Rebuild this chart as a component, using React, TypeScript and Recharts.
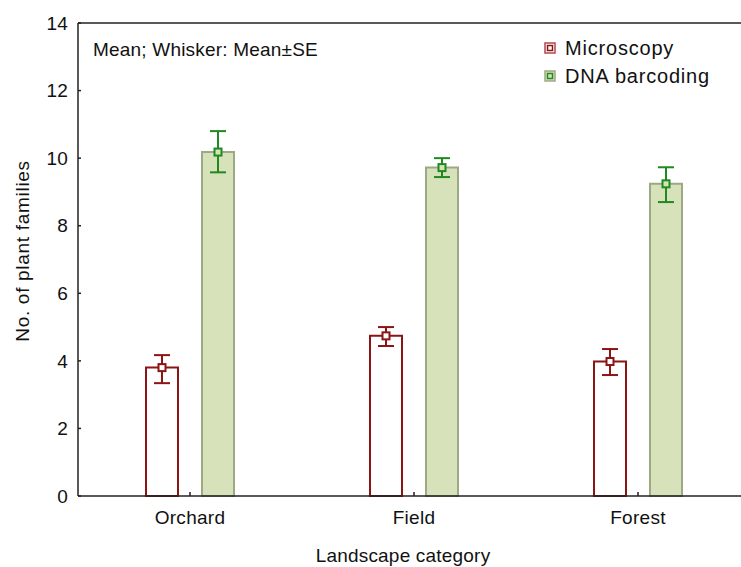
import React from 'react';
import {
  ComposedChart,
  Bar,
  ErrorBar,
  XAxis,
  YAxis,
  ReferenceLine,
  LabelList,
  Customized,
} from 'recharts';

// values
const categories = ['Orchard', 'Field', 'Forest'];
const microMean = [3.8, 4.74, 3.98];
const microLow = [3.34, 4.44, 3.58];
const microHigh = [4.17, 5.0, 4.35];
const dnaMean = [10.18, 9.72, 9.24];
const dnaLow = [9.58, 9.44, 8.7];
const dnaHigh = [10.8, 10.0, 9.73];
const yTicks = [0, 2, 4, 6, 8, 10, 12, 14];
const legendItems = ['Microscopy', 'DNA barcoding'];

const FONT = '"Liberation Sans", Arial, sans-serif';
const MICRO = '#8b1414';
const DNA = '#1f8a1f';
const DNA_FILL = '#d7e2bb';
const DNA_EDGE = '#9ba984';

const data = categories.map((name, i) => ({
  name,
  micro: microMean[i],
  microErr: [microMean[i] - microLow[i], microHigh[i] - microMean[i]],
  dna: dnaMean[i],
  dnaErr: [dnaMean[i] - dnaLow[i], dnaHigh[i] - dnaMean[i]],
}));

const YTick = ({ x, y, payload }: any) => (
  <g>
    <line x1={x} y1={y} x2={x + 3} y2={y} stroke="#222" strokeWidth={1.5} />
    <text x={x - 10} y={y} dy="0.35em" textAnchor="end" fontSize={19} letterSpacing={0.2} fill="#111" fontFamily={FONT}>
      {payload.value}
    </text>
  </g>
);

const XTick = ({ x, y, payload }: any) => (
  <g>
    <line x1={x} y1={y} x2={x} y2={y - 4} stroke="#222" strokeWidth={1.5} />
    <text x={x} y={y + 21} dy="0.35em" textAnchor="middle" fontSize={19} letterSpacing={0.3} fill="#111" fontFamily={FONT}>
      {payload.value}
    </text>
  </g>
);

const marker = (color: string, fill: string) => (props: any) => {
  const { x, y, width } = props;
  const cx = x + width / 2;
  return <rect x={cx - 3.5} y={y - 3.5} width={7} height={7} fill={fill} stroke={color} strokeWidth={2} />;
};

const legendStyles = [
  { color: MICRO, edge: '#b04a4a', fill: '#fff' },
  { color: DNA, edge: DNA_EDGE, fill: DNA_FILL },
];

const Texts = () => (
  <g fontFamily={FONT} fill="#111" fontSize={19} letterSpacing={0.2}>
    <text x={93} y={49} dy="0.35em">Mean; Whisker: Mean±SE</text>
    <text x={403} y={555} dy="0.35em" textAnchor="middle">Landscape category</text>
    <text x={22} y={251} dy="0.35em" textAnchor="middle" letterSpacing={0.7} transform="rotate(-90 22 251)">
      No. of plant families
    </text>
    {legendItems.map((label, i) => {
      const s = legendStyles[i];
      const cy = 48 + i * 28;
      return (
        <g key={label}>
          <rect x={545} y={cy - 5} width={10} height={10} fill={s.fill} stroke={s.edge} strokeWidth={1.5} />
          <rect x={547.5} y={cy - 2.5} width={5} height={5} fill={s.fill} stroke={s.color} strokeWidth={1.5} />
          <text x={565} y={cy} dy="0.35em" fontSize={20} letterSpacing={0.8}>{label}</text>
        </g>
      );
    })}
  </g>
);

export default function App() {
  return (
    <div style={{ position: 'fixed', left: 0, top: 0, width: 741, height: 567, overflow: 'hidden', background: '#fff' }}>
      <ComposedChart
        width={760}
        height={567}
        data={data}
        margin={{ top: 23, right: 10, bottom: 0, left: 0 }}
        barGap={24}
      >
        <XAxis
          dataKey="name"
          height={71}
          stroke="#222"
          strokeWidth={1.5}
          tickLine={false}
          tickSize={0}
          tickMargin={0}
          tick={<XTick />}
        />
        <YAxis
          width={78}
          domain={[0, 14]}
          ticks={yTicks}
          stroke="#222"
          strokeWidth={1.5}
          tickLine={false}
          tickSize={0}
          tickMargin={0}
          tick={<YTick />}
          interval={0}
        />
        <ReferenceLine y={14} stroke="#222" strokeWidth={1.5} />
        <Bar dataKey="micro" name="Microscopy" barSize={32} fill="#fff" stroke={MICRO} strokeWidth={2} isAnimationActive={false}>
          <ErrorBar dataKey="microErr" width={8} stroke={MICRO} strokeWidth={2} />
          <LabelList dataKey="micro" content={marker(MICRO, '#fff')} />
        </Bar>
        <Bar dataKey="dna" name="DNA barcoding" barSize={32} fill={DNA_FILL} stroke={DNA_EDGE} strokeWidth={2} isAnimationActive={false}>
          <ErrorBar dataKey="dnaErr" width={8} stroke={DNA} strokeWidth={2} />
          <LabelList dataKey="dna" content={marker(DNA, DNA_FILL)} />
        </Bar>
        <Customized component={Texts} />
      </ComposedChart>
    </div>
  );
}
